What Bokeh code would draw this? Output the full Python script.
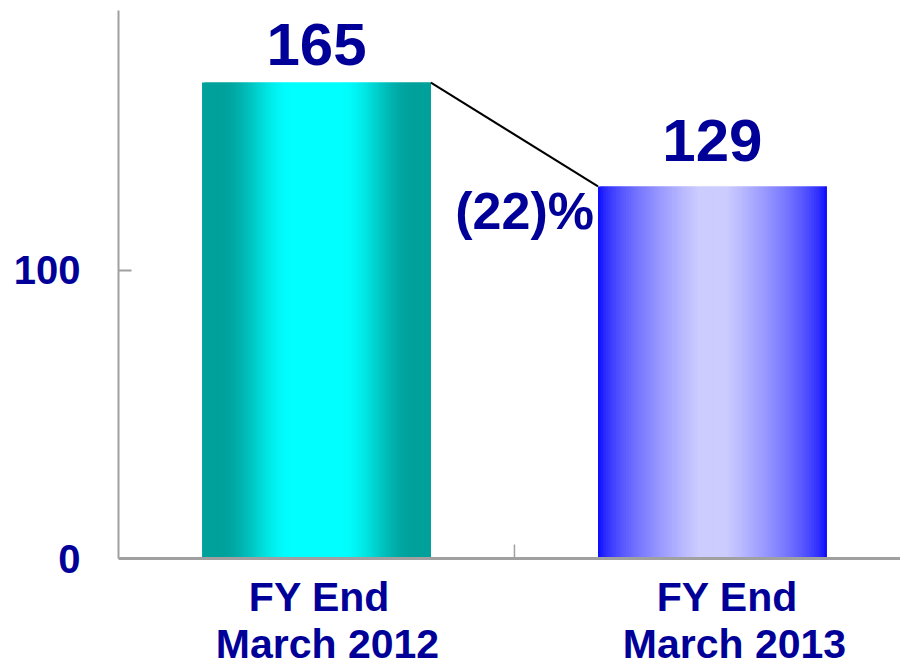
import math
from bokeh.plotting import figure
from bokeh.models import Range1d, FixedTicker, ColumnDataSource, Span
from bokeh.embed import file_html
from bokeh.resources import INLINE
from bokeh.core.properties import value

# ---- data ----
categories = ["FY End\nMarch 2012", "FY End\nMarch 2013"]
values = [165, 129]
value_labels = ["165", "129"]
change_label = "(22)%"
y_ticks = [0, 100]
y_tick_labels = ["0", "100"]

# ---- style ----
FONT = "Liberation Sans"
NAVY = "#000099"
AXIS_GREY = "#A0A0A0"
BAR_W = 0.578
EDGE_COLS = [(0, 160, 155), (0, 0, 255)]
CENTER_COLS = [(0, 255, 255), (204, 204, 255)]
# (plateau half-width, ramp end, gamma, use cosine)
PROFILES = [(0.2, 0.85, 1.0, True), (0.12, 1.0, 0.6, False)]
N_STRIPS = 90
VALUE_LABEL_DY = [-38, -46]
CAT_LINE_DY = [38, 85]
CAT_LINE_DX = [[3, 11], [15, 22]]
W, H = 900, 666
TOP_PAD, LEFT_PAD, BOTTOM_PX = 10, 118, 108
Y_MAX = 190

xs = [i + 0.5 for i in range(len(categories))]
px_per_unit = (H - TOP_PAD - BOTTOM_PX) / Y_MAX
y_min = -BOTTOM_PX / px_per_unit

p = figure(width=W, height=H, output_backend="svg", toolbar_location=None,
           x_range=Range1d(0, 1.975), y_range=Range1d(y_min, Y_MAX),
           x_axis_location=None,
           min_border_left=LEFT_PAD, min_border_right=0, min_border_top=TOP_PAD,
           min_border_bottom=0)
p.grid.visible = False
p.outline_line_color = None
p.background_fill_color = "white"
p.border_fill_color = "white"


def mix(c0, c1, f):
    return "#%02x%02x%02x" % tuple(int(round(a + (b - a) * f)) for a, b in zip(c0, c1))


# gradient bars built from overlapping strips
left, right, top, colors = [], [], [], []
for i, (x, v) in enumerate(zip(xs, values)):
    a, b, g, cosine = PROFILES[i]
    x0 = x - BAR_W / 2
    dx = BAR_W / N_STRIPS
    for k in range(N_STRIPS):
        xc = x0 + (k + 0.5) * dx
        u = abs(xc - x) / (BAR_W / 2)
        if u < a:
            f = 1.0
        elif u > b:
            f = 0.0
        else:
            t = (u - a) / (b - a)
            f = 0.5 * (1 + math.cos(math.pi * t)) if cosine else (1 - t)
            f = f ** g
        left.append(x0 + k * dx)
        right.append(x0 + (k + 1) * dx + (dx if k < N_STRIPS - 1 else 0))
        top.append(v)
        colors.append(mix(EDGE_COLS[i], CENTER_COLS[i], f))

src = ColumnDataSource(dict(left=left, right=right, top=top, bottom=[0] * len(top), color=colors))
p.quad(left="left", right="right", top="top", bottom="bottom", source=src,
       fill_color="color", line_color=None)

# connector line
p.line(x=[xs[0] + BAR_W / 2, xs[1] - BAR_W / 2], y=values, line_color="black", line_width=2)

# value labels
vsrc = ColumnDataSource(dict(x=xs, y=values, t=value_labels, dy=VALUE_LABEL_DY))
p.text(x="x", y="y", text="t", source=vsrc, text_align="center", text_baseline="middle",
       y_offset="dy", text_font=value(FONT), text_font_style="bold",
       text_font_size="60px", text_color=NAVY)

# change label
p.text(x=[xs[1] - BAR_W / 2], y=[values[1]], text=[change_label], text_align="right",
       text_baseline="middle", x_offset=-4, y_offset=25, text_font=value(FONT),
       text_font_style="bold", text_font_size="52px", text_color=NAVY)

# x axis line at 0 and the tick between categories
p.add_layout(Span(location=0, dimension="width", line_color=AXIS_GREY, line_width=3))
boundaries = [xs[i] + 0.5 for i in range(len(xs) - 1)]
p.segment(x0=boundaries, y0=[0] * len(boundaries), x1=boundaries,
          y1=[14 / px_per_unit] * len(boundaries), line_color=AXIS_GREY, line_width=1.5)

# category labels (one text row per line of each label)
lines = [c.split("\n") for c in categories]
for j in range(2):
    csrc = ColumnDataSource(dict(x=xs, y=[0] * len(xs), t=[l[j] for l in lines],
                                 dx=[d[j] for d in CAT_LINE_DX]))
    p.text(x="x", y="y", text="t", source=csrc, text_align="center",
           text_baseline="middle", x_offset="dx", y_offset=CAT_LINE_DY[j],
           text_font=value(FONT), text_font_style="bold", text_font_size="41px",
           text_color=NAVY)

# y axis
ya = p.yaxis[0]
ya.bounds = (0, Y_MAX)
ya.ticker = FixedTicker(ticks=y_ticks)
ya.major_label_overrides = {t: l for t, l in zip(y_ticks, y_tick_labels)}
ya.major_tick_in = 13
ya.major_tick_out = 0
ya.major_tick_line_color = AXIS_GREY
ya.major_tick_line_width = 2
ya.minor_tick_line_color = None
ya.axis_line_color = AXIS_GREY
ya.axis_line_width = 2
ya.major_label_standoff = 38
ya.major_label_text_font = FONT
ya.major_label_text_font_style = "bold"
ya.major_label_text_font_size = "40px"
ya.major_label_text_color = NAVY

open("out.html", "w").write(file_html(p, INLINE))
